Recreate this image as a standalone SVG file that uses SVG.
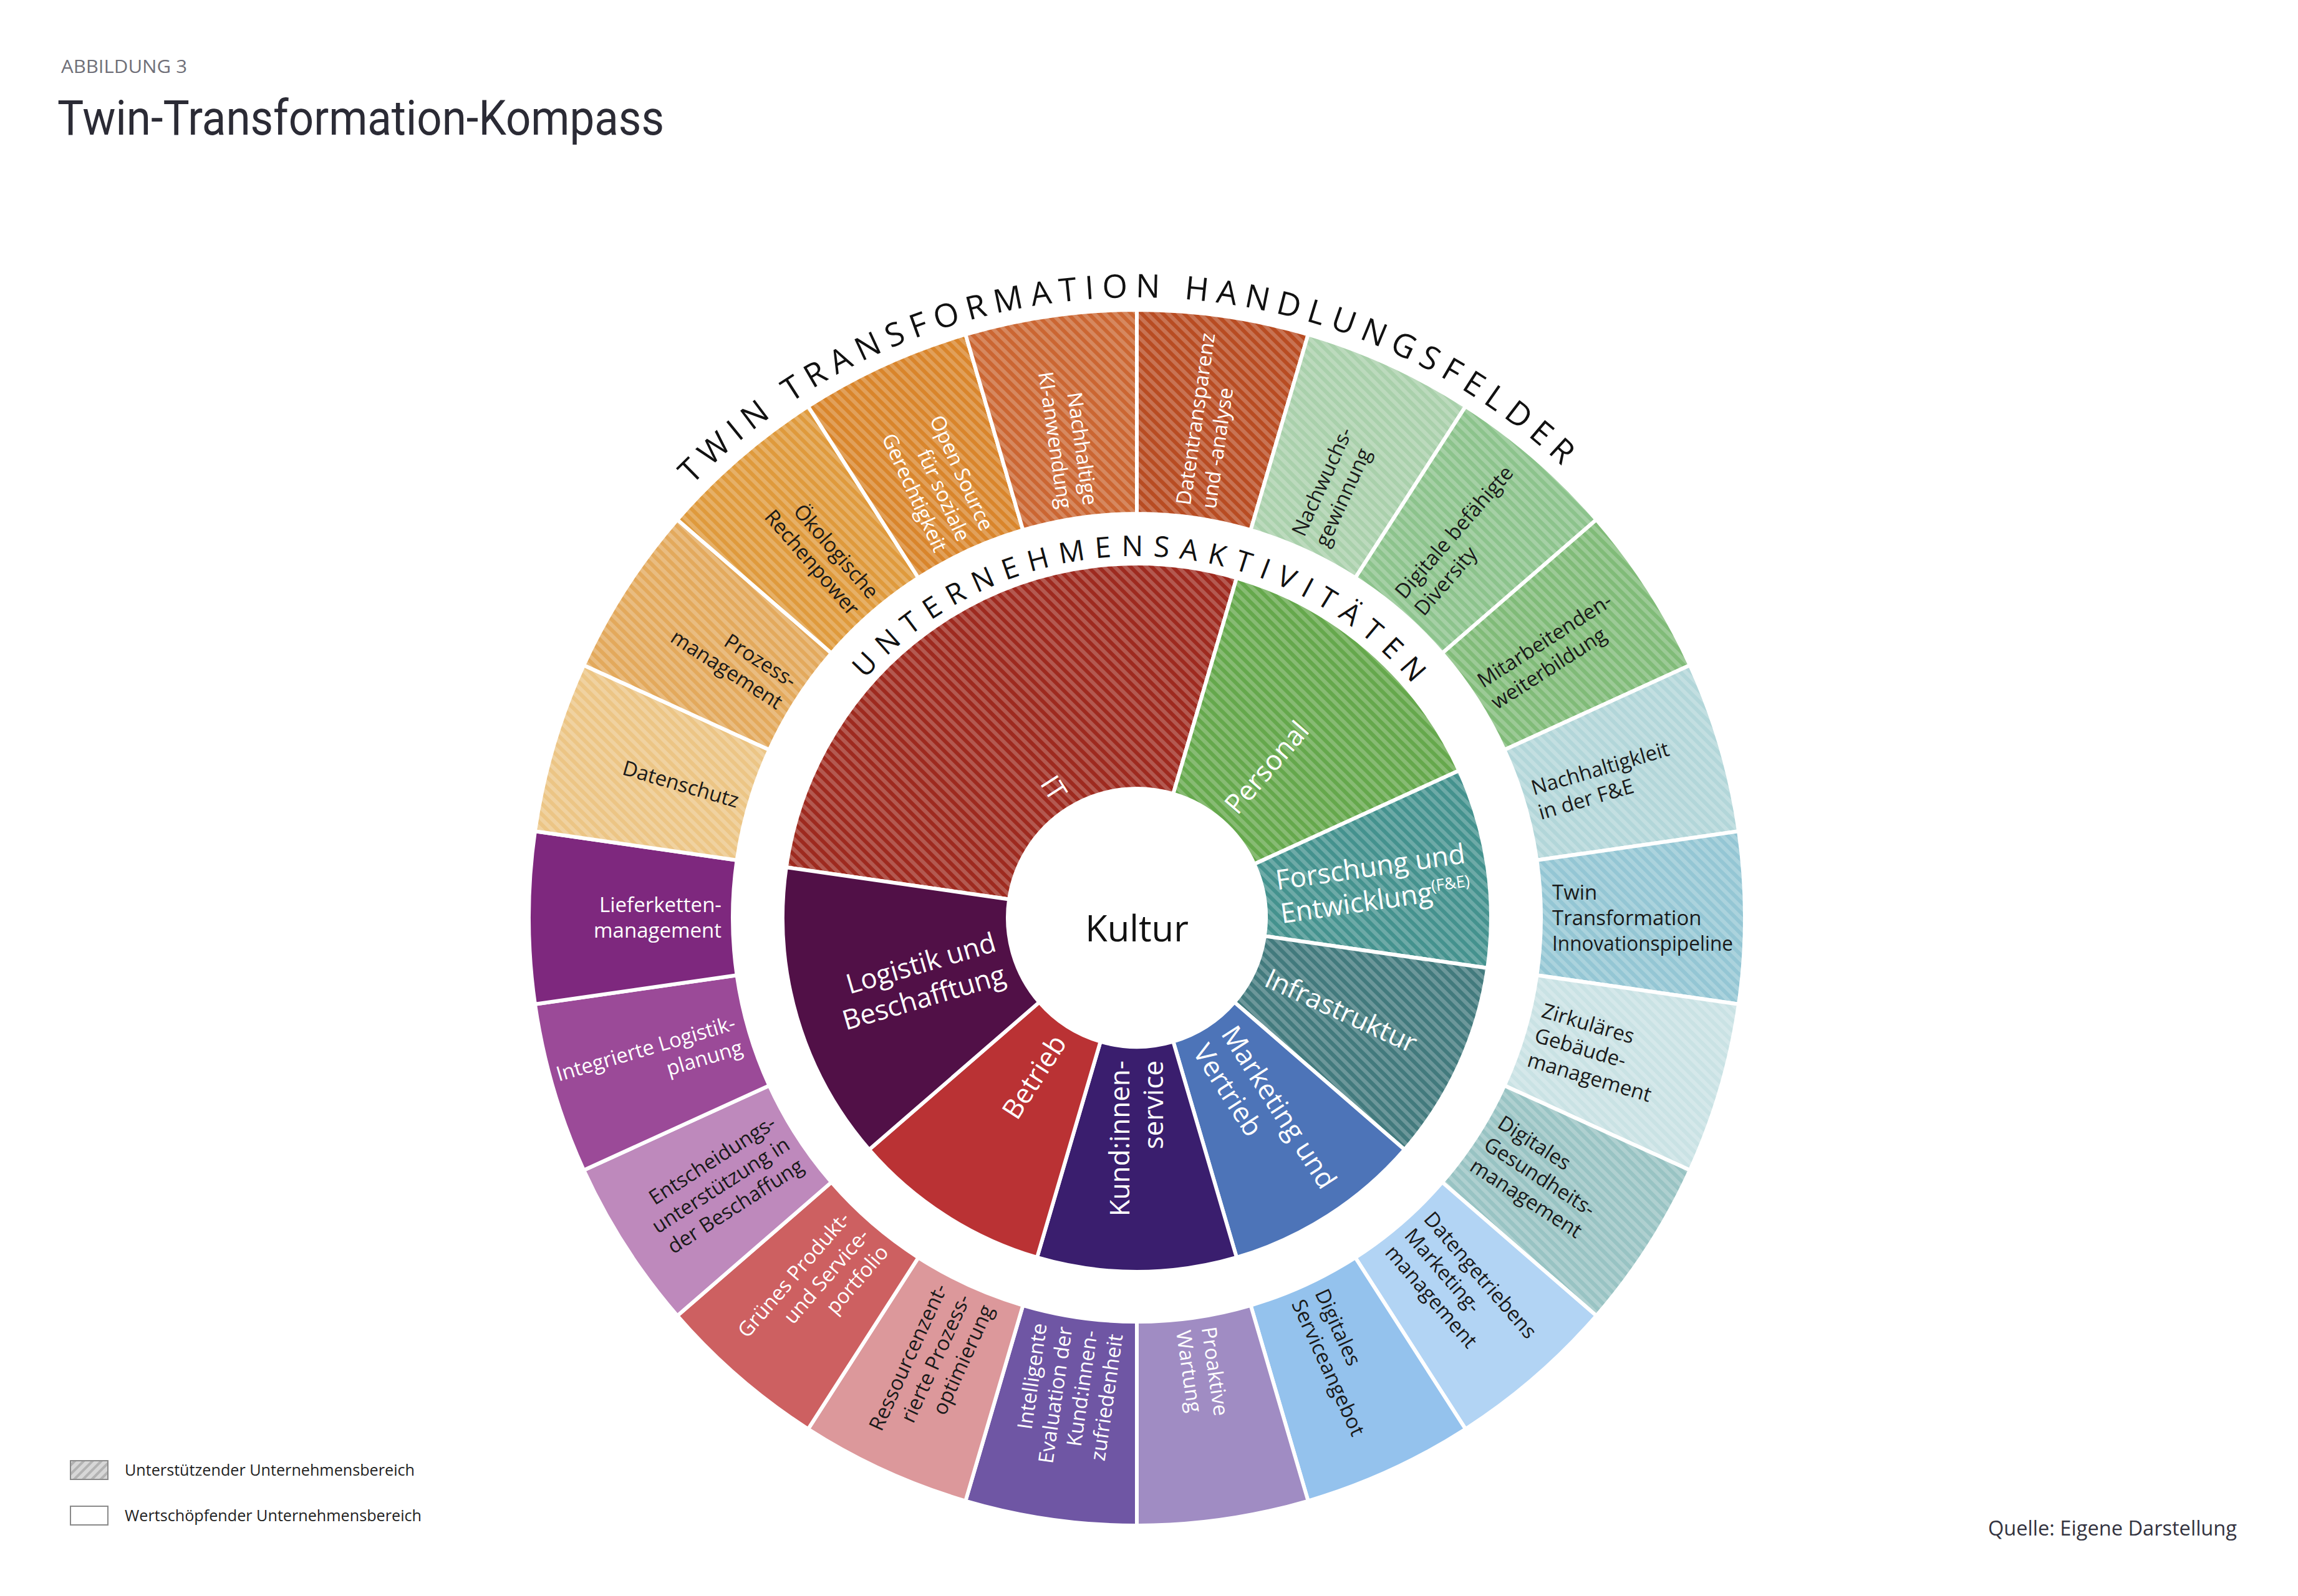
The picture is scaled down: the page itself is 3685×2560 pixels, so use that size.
<svg xmlns="http://www.w3.org/2000/svg" width="3685" height="2560" viewBox="0 0 3685 2560">
<defs>
<pattern id="hatch" patternUnits="userSpaceOnUse" width="12" height="12" patternTransform="rotate(45)"><rect width="12" height="6" fill="#ffffff" fill-opacity="0.22"/></pattern>
<pattern id="hatchL" patternUnits="userSpaceOnUse" width="10" height="10" patternTransform="rotate(-45)"><rect width="10" height="10" fill="#d7d7d7"/><rect width="10" height="4" fill="#b3b3b3"/></pattern>
<path id="arcInner" d="M1243 1472 A580 580 0 0 1 2403 1472"/>
<path id="arcOuter" d="M828 1472 A995 995 0 0 1 2818 1472"/>
</defs>
<style>
.seg{stroke:#ffffff;stroke-width:6;stroke-linejoin:round}
.hat{fill:url(#hatch)}
.ol{font-family:"Open Sans","DejaVu Sans",sans-serif;font-size:33px}
.il{font-family:"Open Sans","DejaVu Sans",sans-serif;font-size:44px;fill:#ffffff}
.w{fill:#ffffff}
.b{fill:#1a1a1a}
.ring{font-family:"Open Sans","DejaVu Sans",sans-serif;fill:#111111}
</style>
<rect width="3685" height="2560" fill="#ffffff"/>

<g id="header">
<text x="98" y="117" font-family="Open Sans, DejaVu Sans, sans-serif" font-size="30" fill="#6f6f78" textLength="202" lengthAdjust="spacingAndGlyphs">ABBILDUNG 3</text>
<text x="92" y="216" font-family="Roboto, Open Sans, sans-serif" font-weight="400" font-size="78" fill="#2b2b35" textLength="973" lengthAdjust="spacingAndGlyphs">Twin-Transformation-Kompass</text>
</g>

<g id="outer-ring">
<g id="o0"><path class="seg" fill="#b84c22" d="M1823 497 A975 975 0 0 1 2097.69 536.49 L2005.56 850.25 A648 648 0 0 0 1823 824Z"/><path class="hat" d="M1823 497 A975 975 0 0 1 2097.69 536.49 L2005.56 850.25 A648 648 0 0 0 1823 824Z"/>
<text class="ol w" transform="translate(1823 1472) rotate(-81.82)"><tspan x="666" y="-9">Datentransparenz</tspan><tspan x="666" y="32">und -analyse</tspan></text></g>
<g id="o1"><path class="seg" fill="#a9d0ab" d="M2097.69 536.49 A975 975 0 0 1 2350.12 651.78 L2173.34 926.87 A648 648 0 0 0 2005.56 850.25Z"/><path class="hat" d="M2097.69 536.49 A975 975 0 0 1 2350.12 651.78 L2173.34 926.87 A648 648 0 0 0 2005.56 850.25Z"/>
<text class="ol b" transform="translate(1823 1472) rotate(-65.45)"><tspan x="666" y="-9">Nachwuchs-</tspan><tspan x="666" y="32">gewinnung</tspan></text></g>
<g id="o2"><path class="seg" fill="#8cc38c" d="M2350.12 651.78 A975 975 0 0 1 2559.86 833.51 L2312.73 1047.65 A648 648 0 0 0 2173.34 926.87Z"/><path class="hat" d="M2350.12 651.78 A975 975 0 0 1 2559.86 833.51 L2312.73 1047.65 A648 648 0 0 0 2173.34 926.87Z"/>
<text class="ol b" transform="translate(1823 1472) rotate(-49.09)"><tspan x="666" y="-9">Digitale befähigte</tspan><tspan x="666" y="32">Diversity</tspan></text></g>
<g id="o3"><path class="seg" fill="#80bb78" d="M2559.86 833.51 A975 975 0 0 1 2709.89 1066.97 L2412.44 1202.81 A648 648 0 0 0 2312.73 1047.65Z"/><path class="hat" d="M2559.86 833.51 A975 975 0 0 1 2709.89 1066.97 L2412.44 1202.81 A648 648 0 0 0 2312.73 1047.65Z"/>
<text class="ol b" transform="translate(1823 1472) rotate(-32.73)"><tspan x="666" y="-9">Mitarbeitenden-</tspan><tspan x="666" y="32">weiterbildung</tspan></text></g>
<g id="o4"><path class="seg" fill="#b2d6d9" d="M2709.89 1066.97 A975 975 0 0 1 2788.08 1333.24 L2464.40 1379.78 A648 648 0 0 0 2412.44 1202.81Z"/><path class="hat" d="M2709.89 1066.97 A975 975 0 0 1 2788.08 1333.24 L2464.40 1379.78 A648 648 0 0 0 2412.44 1202.81Z"/>
<text class="ol b" transform="translate(1823 1472) rotate(-16.36)"><tspan x="666" y="-9">Nachhaltigkleit</tspan><tspan x="666" y="32">in der F&amp;E</tspan></text></g>
<g id="o5"><path class="seg" fill="#94c6d4" d="M2788.08 1333.24 A975 975 0 0 1 2788.08 1610.76 L2464.40 1564.22 A648 648 0 0 0 2464.40 1379.78Z"/><path class="hat" d="M2788.08 1333.24 A975 975 0 0 1 2788.08 1610.76 L2464.40 1564.22 A648 648 0 0 0 2464.40 1379.78Z"/>
<text class="ol b" transform="translate(1823 1472)"><tspan x="666" y="-29.5">Twin</tspan><tspan x="666" y="11.5">Transformation</tspan><tspan x="666" y="52.5" textLength="290" lengthAdjust="spacingAndGlyphs">Innovationspipeline</tspan></text></g>
<g id="o6"><path class="seg" fill="#c9e2e4" d="M2788.08 1610.76 A975 975 0 0 1 2709.89 1877.03 L2412.44 1741.19 A648 648 0 0 0 2464.40 1564.22Z"/><path class="hat" d="M2788.08 1610.76 A975 975 0 0 1 2709.89 1877.03 L2412.44 1741.19 A648 648 0 0 0 2464.40 1564.22Z"/>
<text class="ol b" transform="translate(1823 1472) rotate(16.36)"><tspan x="666" y="-29.5">Zirkuläres</tspan><tspan x="666" y="11.5">Gebäude-</tspan><tspan x="666" y="52.5">management</tspan></text></g>
<g id="o7"><path class="seg" fill="#98c3c3" d="M2709.89 1877.03 A975 975 0 0 1 2559.86 2110.49 L2312.73 1896.35 A648 648 0 0 0 2412.44 1741.19Z"/><path class="hat" d="M2709.89 1877.03 A975 975 0 0 1 2559.86 2110.49 L2312.73 1896.35 A648 648 0 0 0 2412.44 1741.19Z"/>
<text class="ol b" transform="translate(1823 1472) rotate(32.73)"><tspan x="666" y="-29.5">Digitales</tspan><tspan x="666" y="11.5">Gesundheits-</tspan><tspan x="666" y="52.5">management</tspan></text></g>
<g id="o8"><path class="seg" fill="#b2d4f4" d="M2559.86 2110.49 A975 975 0 0 1 2350.12 2292.22 L2173.34 2017.13 A648 648 0 0 0 2312.73 1896.35Z"/>
<text class="ol b" transform="translate(1823 1472) rotate(49.09)"><tspan x="666" y="-29.5">Datengetriebens</tspan><tspan x="666" y="11.5">Marketing-</tspan><tspan x="666" y="52.5">management</tspan></text></g>
<g id="o9"><path class="seg" fill="#94c2ed" d="M2350.12 2292.22 A975 975 0 0 1 2097.69 2407.51 L2005.56 2093.75 A648 648 0 0 0 2173.34 2017.13Z"/>
<text class="ol b" transform="translate(1823 1472) rotate(65.45)"><tspan x="666" y="-9">Digitales</tspan><tspan x="666" y="32">Serviceangebot</tspan></text></g>
<g id="o10"><path class="seg" fill="#a08cc3" d="M2097.69 2407.51 A975 975 0 0 1 1823 2447 L1823 2120 A648 648 0 0 0 2005.56 2093.75Z"/>
<text class="ol w" transform="translate(1823 1472) rotate(81.82)"><tspan x="666" y="-9">Proaktive</tspan><tspan x="666" y="32">Wartung</tspan></text></g>
<g id="o11"><path class="seg" fill="#6f56a4" d="M1823 2447 A975 975 0 0 1 1548.31 2407.51 L1640.44 2093.75 A648 648 0 0 0 1823 2120Z"/>
<text class="ol w" text-anchor="end" transform="translate(1823 1472) rotate(-81.82)"><tspan x="-666" y="-50">Intelligente</tspan><tspan x="-666" y="-9">Evaluation der</tspan><tspan x="-666" y="32">Kund:innen-</tspan><tspan x="-666" y="73">zufriedenheit</tspan></text></g>
<g id="o12"><path class="seg" fill="#dc989b" d="M1548.31 2407.51 A975 975 0 0 1 1295.88 2292.22 L1472.66 2017.13 A648 648 0 0 0 1640.44 2093.75Z"/>
<text class="ol b" text-anchor="end" transform="translate(1823 1472) rotate(-65.45)"><tspan x="-666" y="-29.5">Ressourcenzent-</tspan><tspan x="-666" y="11.5">rierte Prozess-</tspan><tspan x="-666" y="52.5">optimierung</tspan></text></g>
<g id="o13"><path class="seg" fill="#cd6061" d="M1295.88 2292.22 A975 975 0 0 1 1086.14 2110.49 L1333.27 1896.35 A648 648 0 0 0 1472.66 2017.13Z"/>
<text class="ol w" text-anchor="end" transform="translate(1823 1472) rotate(-49.09)"><tspan x="-666" y="-29.5">Grünes Produkt-</tspan><tspan x="-666" y="11.5">und Service-</tspan><tspan x="-666" y="52.5">portfolio</tspan></text></g>
<g id="o14"><path class="seg" fill="#be89bc" d="M1086.14 2110.49 A975 975 0 0 1 936.11 1877.03 L1233.56 1741.19 A648 648 0 0 0 1333.27 1896.35Z"/>
<text class="ol b" text-anchor="end" transform="translate(1823 1472) rotate(-32.73)"><tspan x="-666" y="-29.5">Entscheidungs-</tspan><tspan x="-666" y="11.5">unterstützung in</tspan><tspan x="-666" y="52.5">der Beschaffung</tspan></text></g>
<g id="o15"><path class="seg" fill="#9b4a98" d="M936.11 1877.03 A975 975 0 0 1 857.92 1610.76 L1181.60 1564.22 A648 648 0 0 0 1233.56 1741.19Z"/>
<text class="ol w" text-anchor="end" transform="translate(1823 1472) rotate(-16.36)"><tspan x="-666" y="-9">Integrierte Logistik-</tspan><tspan x="-666" y="32">planung</tspan></text></g>
<g id="o16"><path class="seg" fill="#7e287e" d="M857.92 1610.76 A975 975 0 0 1 857.92 1333.24 L1181.60 1379.78 A648 648 0 0 0 1181.60 1564.22Z"/>
<text class="ol w" text-anchor="end" transform="translate(1823 1472)"><tspan x="-666" y="-9">Lieferketten-</tspan><tspan x="-666" y="32">management</tspan></text></g>
<g id="o17"><path class="seg" fill="#ecc585" d="M857.92 1333.24 A975 975 0 0 1 936.11 1066.97 L1233.56 1202.81 A648 648 0 0 0 1181.60 1379.78Z"/><path class="hat" d="M857.92 1333.24 A975 975 0 0 1 936.11 1066.97 L1233.56 1202.81 A648 648 0 0 0 1181.60 1379.78Z"/>
<text class="ol b" text-anchor="end" transform="translate(1823 1472) rotate(16.36)"><tspan x="-666" y="12">Datenschutz</tspan></text></g>
<g id="o18"><path class="seg" fill="#e3a95c" d="M936.11 1066.97 A975 975 0 0 1 1086.14 833.51 L1333.27 1047.65 A648 648 0 0 0 1233.56 1202.81Z"/><path class="hat" d="M936.11 1066.97 A975 975 0 0 1 1086.14 833.51 L1333.27 1047.65 A648 648 0 0 0 1233.56 1202.81Z"/>
<text class="ol b" text-anchor="end" transform="translate(1823 1472) rotate(32.73)"><tspan x="-666" y="-9">Prozess-</tspan><tspan x="-666" y="32">management</tspan></text></g>
<g id="o19"><path class="seg" fill="#df9a3c" d="M1086.14 833.51 A975 975 0 0 1 1295.88 651.78 L1472.66 926.87 A648 648 0 0 0 1333.27 1047.65Z"/><path class="hat" d="M1086.14 833.51 A975 975 0 0 1 1295.88 651.78 L1472.66 926.87 A648 648 0 0 0 1333.27 1047.65Z"/>
<text class="ol b" text-anchor="end" transform="translate(1823 1472) rotate(49.09)"><tspan x="-666" y="-9">Ökologische</tspan><tspan x="-666" y="32">Rechenpower</tspan></text></g>
<g id="o20"><path class="seg" fill="#d9852b" d="M1295.88 651.78 A975 975 0 0 1 1548.31 536.49 L1640.44 850.25 A648 648 0 0 0 1472.66 926.87Z"/><path class="hat" d="M1295.88 651.78 A975 975 0 0 1 1548.31 536.49 L1640.44 850.25 A648 648 0 0 0 1472.66 926.87Z"/>
<text class="ol w" text-anchor="end" transform="translate(1823 1472) rotate(65.45)"><tspan x="-666" y="-29.5">Open Source</tspan><tspan x="-666" y="11.5">für soziale</tspan><tspan x="-666" y="52.5">Gerechtigkeit</tspan></text></g>
<g id="o21"><path class="seg" fill="#cb6632" d="M1548.31 536.49 A975 975 0 0 1 1823 497 L1823 824 A648 648 0 0 0 1640.44 850.25Z"/><path class="hat" d="M1548.31 536.49 A975 975 0 0 1 1823 497 L1823 824 A648 648 0 0 0 1640.44 850.25Z"/>
<text class="ol w" text-anchor="end" transform="translate(1823 1472) rotate(81.82)"><tspan x="-666" y="-9">Nachhaltige</tspan><tspan x="-666" y="32">KI-anwendung</tspan></text></g>
</g>

<g id="inner-ring">
<g id="it"><path class="seg" fill="#9e2a1f" d="M1260.78 1391.16 A568 568 0 0 1 1983.02 927.01 L1881.32 1273.38 A207 207 0 0 0 1618.11 1442.54Z"/><path class="hat" d="M1260.78 1391.16 A568 568 0 0 1 1983.02 927.01 L1881.32 1273.38 A207 207 0 0 0 1618.11 1442.54Z"/>
<text class="il" text-anchor="end" transform="translate(1823 1472) rotate(57.27)"><tspan x="-229" y="15">IT</tspan></text></g>
<g id="personal"><path class="seg" fill="#65a84c" d="M1983.02 927.01 A568 568 0 0 1 2339.67 1236.04 L2011.29 1386.01 A207 207 0 0 0 1881.32 1273.38Z"/><path class="hat" d="M1983.02 927.01 A568 568 0 0 1 2339.67 1236.04 L2011.29 1386.01 A207 207 0 0 0 1881.32 1273.38Z"/>
<text class="il" transform="translate(1823 1472) rotate(-49.09)"><tspan x="229" y="15">Personal</tspan></text></g>
<g id="forschung"><path class="seg" fill="#44928e" d="M2339.67 1236.04 A568 568 0 0 1 2385.22 1552.84 L2027.89 1501.46 A207 207 0 0 0 2011.29 1386.01Z"/><path class="hat" d="M2339.67 1236.04 A568 568 0 0 1 2385.22 1552.84 L2027.89 1501.46 A207 207 0 0 0 2011.29 1386.01Z"/>
<text class="il" transform="translate(1823 1472) rotate(-8.18)"><tspan x="229" y="-12">Forschung und</tspan><tspan x="229" y="42">Entwicklung</tspan><tspan font-size="26" dy="-16">(F&amp;E)</tspan></text></g>
<g id="infrastruktur"><path class="seg" fill="#427a7d" d="M2385.22 1552.84 A568 568 0 0 1 2252.27 1843.96 L1979.44 1607.56 A207 207 0 0 0 2027.89 1501.46Z"/><path class="hat" d="M2385.22 1552.84 A568 568 0 0 1 2252.27 1843.96 L1979.44 1607.56 A207 207 0 0 0 2027.89 1501.46Z"/>
<text class="il" transform="translate(1823 1472) rotate(24.55)"><tspan x="229" y="15">Infrastruktur</tspan></text></g>
<g id="marketing"><path class="seg" fill="#4d74b8" d="M2252.27 1843.96 A568 568 0 0 1 1983.02 2016.99 L1881.32 1670.62 A207 207 0 0 0 1979.44 1607.56Z"/>
<text class="il" transform="translate(1823 1472) rotate(57.27)"><tspan x="229" y="-12">Marketing und</tspan><tspan x="229" y="42">Vertrieb</tspan></text></g>
<g id="kundenservice"><path class="seg" fill="#3a1e6e" d="M1983.02 2016.99 A568 568 0 0 1 1662.98 2016.99 L1764.68 1670.62 A207 207 0 0 0 1881.32 1670.62Z"/>
<text class="il" text-anchor="end" transform="translate(1823 1472) rotate(-90)"><tspan x="-229" y="-12">Kund:innen-</tspan><tspan x="-229" y="42">service</tspan></text></g>
<g id="betrieb"><path class="seg" fill="#ba3234" d="M1662.98 2016.99 A568 568 0 0 1 1393.73 1843.96 L1666.56 1607.56 A207 207 0 0 0 1764.68 1670.62Z"/>
<text class="il" text-anchor="end" transform="translate(1823 1472) rotate(-57.27)"><tspan x="-229" y="15">Betrieb</tspan></text></g>
<g id="logistik"><path class="seg" fill="#511047" d="M1393.73 1843.96 A568 568 0 0 1 1260.78 1391.16 L1618.11 1442.54 A207 207 0 0 0 1666.56 1607.56Z"/>
<text class="il" text-anchor="end" transform="translate(1823 1472) rotate(-16.36)"><tspan x="-229" y="-12">Logistik und</tspan><tspan x="-229" y="42">Beschafftung</tspan></text></g>
</g>

<g id="kultur">
<circle cx="1823" cy="1472" r="207" fill="#ffffff"/>
<text x="1823" y="1510" text-anchor="middle" font-family="Open Sans, DejaVu Sans, sans-serif" font-size="58" fill="#111111">Kultur</text>
</g>

<g id="ring-titles">
<text class="ring" font-size="46" letter-spacing="16"><textPath href="#arcInner" startOffset="924" text-anchor="middle">UNTERNEHMENSAKTIVITÄTEN</textPath></text>
<text class="ring" font-size="52" letter-spacing="12.5"><textPath href="#arcOuter" startOffset="1547" text-anchor="middle">TWIN TRANSFORMATION HANDLUNGSFELDER</textPath></text>
</g>

<g id="connectors"></g>

<g id="legend">
<rect x="113" y="2343" width="60" height="30" fill="url(#hatchL)" stroke="#8a8a8a" stroke-width="2"/>
<text x="200" y="2367" font-family="Open Sans, DejaVu Sans, sans-serif" font-size="26" fill="#222222" textLength="465" lengthAdjust="spacingAndGlyphs">Unterstützender Unternehmensbereich</text>
<rect x="113" y="2416" width="60" height="30" fill="#ffffff" stroke="#8a8a8a" stroke-width="2"/>
<text x="200" y="2440" font-family="Open Sans, DejaVu Sans, sans-serif" font-size="26" fill="#222222" textLength="476" lengthAdjust="spacingAndGlyphs">Wertschöpfender Unternehmensbereich</text>
</g>

<g id="source">
<text x="3188" y="2463" font-family="Open Sans, DejaVu Sans, sans-serif" font-size="32" fill="#333340" textLength="399" lengthAdjust="spacingAndGlyphs">Quelle: Eigene Darstellung</text>
</g>
</svg>
